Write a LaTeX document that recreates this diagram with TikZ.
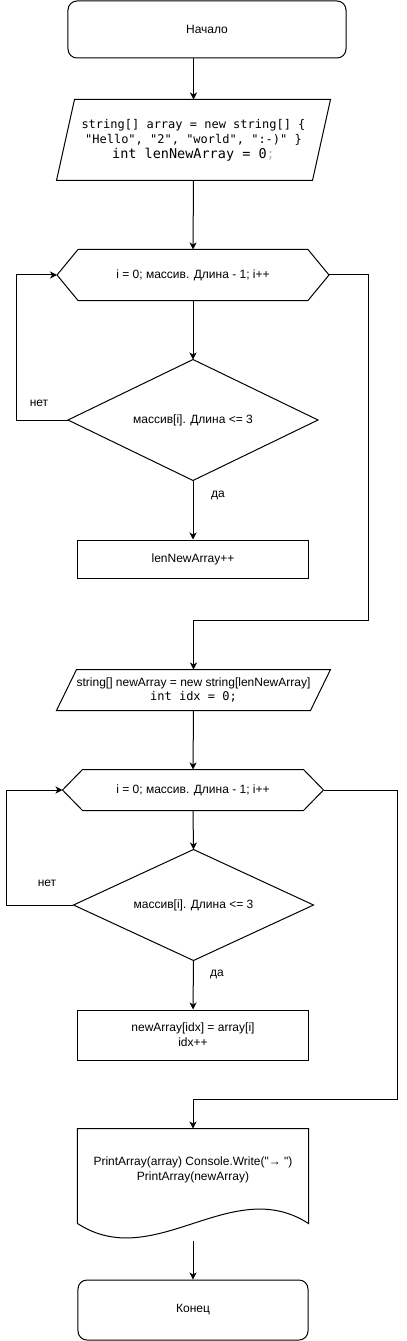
\documentclass[tikz,border=0pt]{standalone}
\usepackage{fontspec}
\setmainfont{Liberation Sans}[Ligatures=TeXOff]
\newfontfamily\monofont{DejaVu Sans Mono}[Ligatures=TeXOff]
\usetikzlibrary{arrows.meta,calc}
\definecolor{semigray}{HTML}{B8B8B8}
\begin{document}
\begin{tikzpicture}[x=1bp,y=-1bp,line width=1bp,
  base/.style={inner sep=0pt,align=center,font=\fontsize{12bp}{15bp}\selectfont},
  frame/.style={base,draw=none},
  roundbox/.style={base,draw,rounded corners=9bp},
  plainbox/.style={base,draw},
  arr/.style={-{Stealth[length=7bp,width=7bp,inset=2bp]}},
  outline/.style={draw,line join=miter}]
\useasboundingbox (0,0) rectangle (406,1341);

% nodes
\node[roundbox,minimum width=278bp,minimum height=57bp] (start) at (207,29.5) {Начало};

\node[frame,minimum width=273bp,minimum height=80bp] (p1) at (193.5,140)
  {\monofont\fontsize{12bp}{17bp}\selectfont string[] array = new string[] \{\\
   \monofont\fontsize{12bp}{17bp}\selectfont "Hello", "2", "world", ":-)" \}\\
   \monofont\fontsize{13.5bp}{17bp}\selectfont int lenNewArray = 0{\color{semigray};}};

\node[frame,minimum width=271bp,minimum height=50bp] (h1) at (193,275) {i = 0; массив. Длина - 1; i++};
\node[frame,minimum width=249bp,minimum height=120bp] (d1) at (193,420) {массив[i]. Длина <= 3};
\node[plainbox,minimum width=230bp,minimum height=38bp] (r1) at (193,559) {lenNewArray++};

\node[frame,minimum width=273bp,minimum height=40bp] (p2) at (193.5,690)
  {string[] newArray = new string[lenNewArray]\\[-1bp]
   {\monofont\fontsize{12bp}{14bp}\selectfont int idx = 0;}};

\node[frame,minimum width=260bp,minimum height=40bp] (h2) at (193,790) {i = 0; массив. Длина - 1; i++};
\node[frame,minimum width=239bp,minimum height=110bp] (d2) at (193.5,905) {массив[i]. Длина <= 3};
\node[plainbox,minimum width=230bp,minimum height=50bp] (r2) at (193,1035) {newArray[idx] = array[i]\\idx++};

\node[frame,minimum width=230bp,minimum height=111bp] (doc) at (193,1184.5) {};
\node[base] (doctext) at (193,1169.5) {PrintArray(array) Console.Write("→ ")\\PrintArray(newArray)};

\node[roundbox,minimum width=230bp,minimum height=60bp] (end) at (193,1310) {Конец};

% shape outlines
\path[outline] ([xshift=18bp]p1.north west) -- (p1.north east) -- ([xshift=-18bp]p1.south east) -- (p1.south west) -- cycle;
\path[outline] ([xshift=20bp]p2.north west) -- (p2.north east) -- ([xshift=-20bp]p2.south east) -- (p2.south west) -- cycle;
\path[outline] (h1.west) -- ([xshift=21bp]h1.north west) -- ([xshift=-21bp]h1.north east) -- (h1.east)
  -- ([xshift=-21bp]h1.south east) -- ([xshift=21bp]h1.south west) -- cycle;
\path[outline] (h2.west) -- ([xshift=20bp]h2.north west) -- ([xshift=-20bp]h2.north east) -- (h2.east)
  -- ([xshift=-20bp]h2.south east) -- ([xshift=20bp]h2.south west) -- cycle;
\path[outline] (d1.west) -- (d1.north) -- (d1.east) -- (d1.south) -- cycle;
\path[outline] (d2.west) -- (d2.north) -- (d2.east) -- (d2.south) -- cycle;
\path[outline] ($(doc.south west)+(0,-17)$) -- (doc.north west) -- (doc.north east) -- ($(doc.south east)+(0,-17)$)
  .. controls ($(doc.south east)+(-77,-67)$) and ($(doc.south west)+(77,33)$) .. ($(doc.south west)+(0,-17)$);

% labels
\node[base] (no1) at (39,403) {нет};
\node[base] (yes1) at (218,495) {да};
\node[base] (no2) at (47,883) {нет};
\node[base] (yes2) at (217,974) {да};

% connectors
\coordinate (k1) at (368,620);
\coordinate (k2) at (397,1099);
\draw[arr] (start.south -| p1.north) -- (p1.north);
\draw[arr] (p1.south) -- (h1.north);
\draw[arr] (h1.south) -- (d1.north);
\draw[arr] (d1.south) -- (r1.north);
\draw[arr] (d1.west) -- ++(-51,0) |- (h1.west);
\draw[arr] (h1.east) -| (k1) -| (p2.north);
\draw[arr] (p2.south) -- (h2.north);
\draw[arr] (h2.south) -- (d2.north);
\draw[arr] (d2.south) -- (r2.north);
\draw[arr] (d2.west) -- ++(-67,0) |- (h2.west);
\draw[arr] (h2.east) -| (k2) -| (doc.north);
\draw[arr] (doc.south) -- (end.north);
\end{tikzpicture}
\end{document}
